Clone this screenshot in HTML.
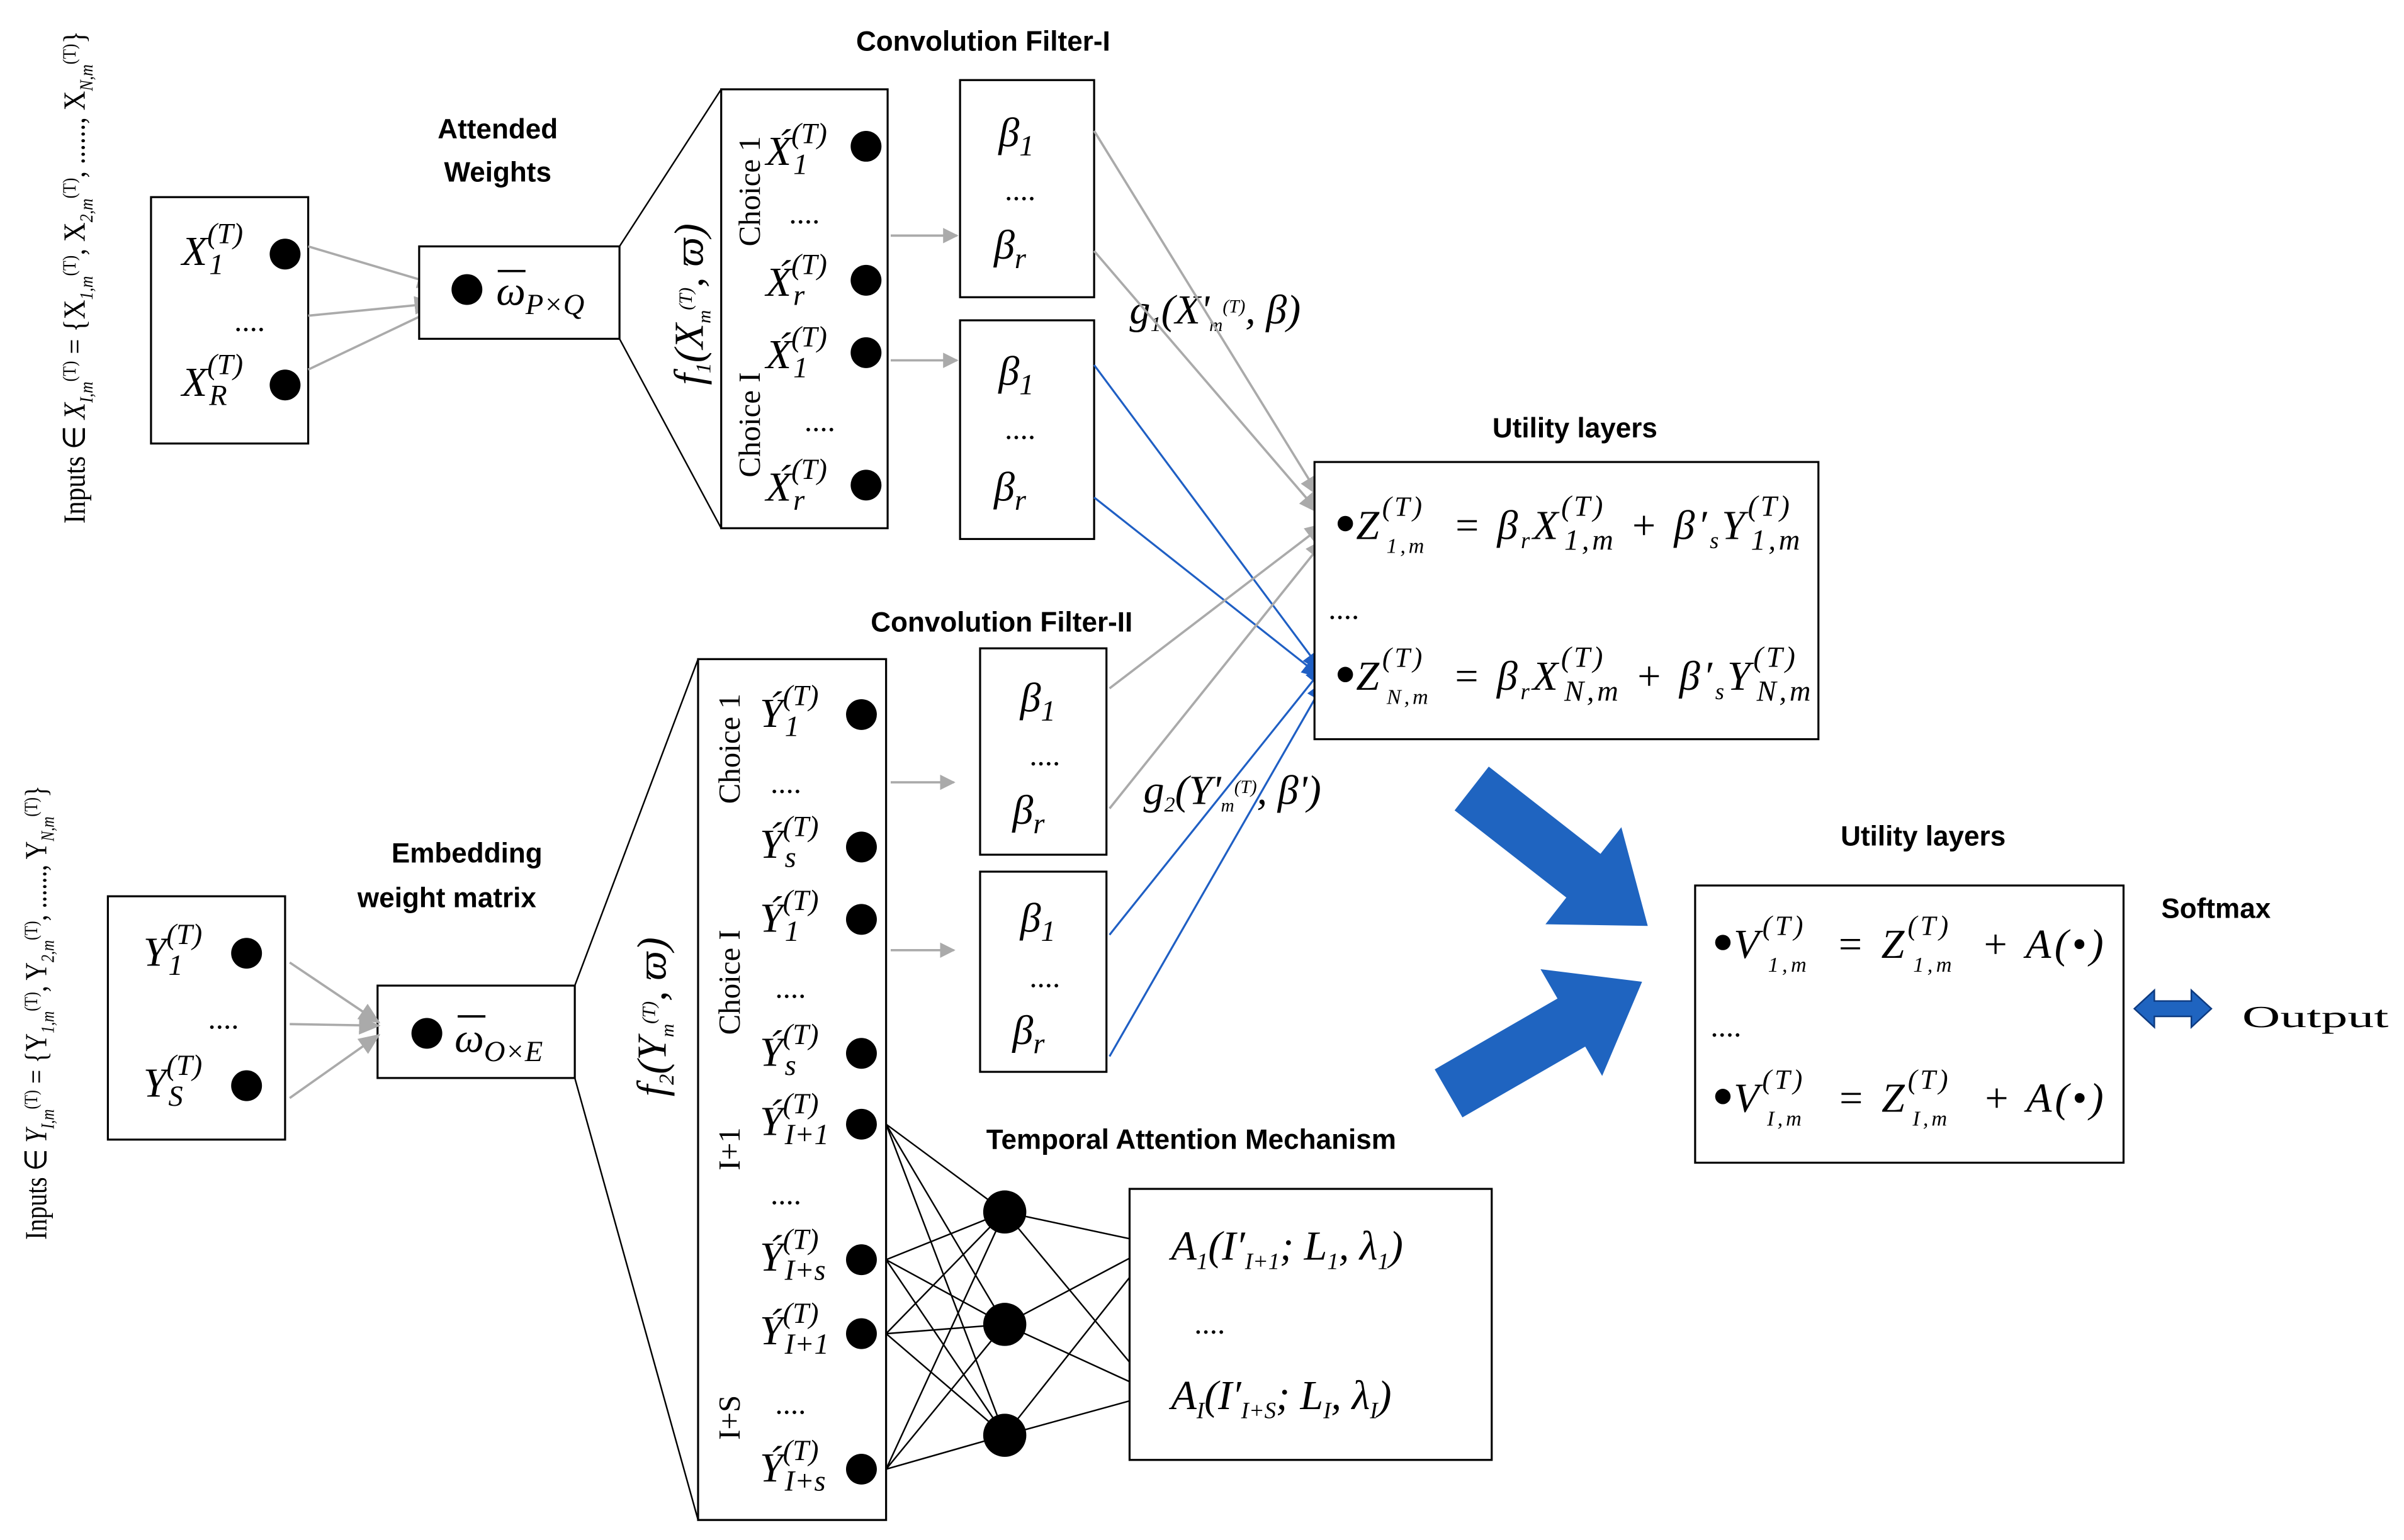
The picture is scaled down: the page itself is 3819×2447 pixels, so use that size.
<!DOCTYPE html>
<html><head><meta charset="utf-8"><style>
html,body{margin:0;padding:0;background:#fff;}
svg{display:block;}
.m{font-family:"Liberation Serif",serif;font-style:italic;font-size:27px;fill:#000;}
.b{font-family:"Liberation Sans",sans-serif;font-weight:bold;font-size:18px;fill:#000;}
.s{font-family:"Liberation Serif",serif;font-size:20px;fill:#000;}
.box{fill:#fff;stroke:#000;stroke-width:1.3;}
.g{stroke:#aaa;stroke-width:1.5;fill:none;}
.bl{stroke:#1f5fc4;stroke-width:1.3;fill:none;}
.k{stroke:#000;stroke-width:1;fill:none;}
</style></head><body>
<svg width="3819" height="2447" viewBox="0 0 1560 1000" preserveAspectRatio="none" xmlns="http://www.w3.org/2000/svg">
<defs>
<marker id="ag" markerWidth="10" markerHeight="10" refX="9" refY="5" orient="auto" markerUnits="userSpaceOnUse"><path d="M0,0 L10,5 L0,10 Z" fill="#aaa"/></marker>
<marker id="ab" markerWidth="14" markerHeight="12" refX="13" refY="6" orient="auto" markerUnits="userSpaceOnUse"><path d="M0,0 L14,6 L0,12 Z" fill="#1f5fc4"/></marker>
<marker id="ag2" markerWidth="14" markerHeight="12" refX="13" refY="6" orient="auto" markerUnits="userSpaceOnUse"><path d="M0,0 L14,6 L0,12 Z" fill="#aaa"/></marker>
</defs>

<!-- left vertical labels -->
<text class="s" font-size="17" textLength="320" lengthAdjust="spacingAndGlyphs" transform="translate(55,340) rotate(-90)">Inputs <tspan>∈</tspan><tspan font-style="italic"> X</tspan><tspan font-size="12" dy="5" font-style="italic">I,m</tspan><tspan font-size="12" dy="-11">(T)</tspan><tspan dy="6"> = {X</tspan><tspan font-size="12" dy="5" font-style="italic">1,m</tspan><tspan font-size="12" dy="-11">(T)</tspan><tspan dy="6">, X</tspan><tspan font-size="12" dy="5" font-style="italic">2,m</tspan><tspan font-size="12" dy="-11">(T)</tspan><tspan dy="6">, ......, X</tspan><tspan font-size="12" dy="5" font-style="italic">N,m</tspan><tspan font-size="12" dy="-11">(T)</tspan><tspan dy="6">}</tspan></text>
<text class="s" font-size="17" textLength="295" lengthAdjust="spacingAndGlyphs" transform="translate(30,805) rotate(-90)">Inputs <tspan>∈</tspan><tspan font-style="italic"> Y</tspan><tspan font-size="12" dy="5" font-style="italic">I,m</tspan><tspan font-size="12" dy="-11">(T)</tspan><tspan dy="6"> = {Y</tspan><tspan font-size="12" dy="5" font-style="italic">1,m</tspan><tspan font-size="12" dy="-11">(T)</tspan><tspan dy="6">, Y</tspan><tspan font-size="12" dy="5" font-style="italic">2,m</tspan><tspan font-size="12" dy="-11">(T)</tspan><tspan dy="6">, ......, Y</tspan><tspan font-size="12" dy="5" font-style="italic">N,m</tspan><tspan font-size="12" dy="-11">(T)</tspan><tspan dy="6">}</tspan></text>

<!-- X box -->
<rect class="box" x="98" y="128" width="102" height="160"/>
<text class="m" x="118" y="172">X<tspan font-size="19" dy="-14">(T)</tspan><tspan font-size="19" dx="-22" dy="20">1</tspan></text>
<circle cx="185" cy="165" r="10"/>
<text class="s" x="152" y="215">....</text>
<text class="m" x="118" y="257">X<tspan font-size="19" dy="-14">(T)</tspan><tspan font-size="19" dx="-22" dy="20">R</tspan></text>
<circle cx="185" cy="250" r="10"/>
<line class="g" x1="200" y1="160" x2="284" y2="185" marker-end="url(#ag2)"/>
<line class="g" x1="200" y1="205" x2="282" y2="197" marker-end="url(#ag2)"/>
<line class="g" x1="200" y1="240" x2="284" y2="200" marker-end="url(#ag2)"/>

<text class="b" x="323" y="90" text-anchor="middle">Attended</text>
<text class="b" x="323" y="118" text-anchor="middle">Weights</text>
<rect class="box" x="272" y="160" width="130" height="60"/>
<circle cx="303" cy="188" r="10"/>
<text class="m" x="322" y="198">ω<tspan font-size="19" dy="6">P×Q</tspan></text>
<line x1="323" y1="176" x2="341" y2="176" stroke="#000" stroke-width="1.5"/>
<line class="k" x1="402" y1="160" x2="468" y2="58"/>
<line class="k" x1="402" y1="220" x2="468" y2="343"/>
<text class="m" font-size="20" transform="translate(456,250) rotate(-90)">f<tspan font-size="14" dy="5">1</tspan><tspan dy="-5">(X</tspan><tspan font-size="12" dy="5">m</tspan><tspan font-size="12" dy="-12">(T)</tspan><tspan dy="7">, ϖ)</tspan></text>

<!-- choices box upper -->
<rect class="box" x="468" y="58" width="108" height="285"/>
<text class="s" font-size="18" transform="translate(493,160) rotate(-90)">Choice 1</text>
<text class="s" font-size="18" transform="translate(493,310) rotate(-90)">Choice I</text>
<text class="m" x="497" y="107">X́<tspan font-size="19" dy="-14">(T)</tspan><tspan font-size="19" dx="-22" dy="20">1</tspan></text><circle cx="562" cy="95" r="10"/>
<text class="s" x="512" y="145">....</text>
<text class="m" x="497" y="192">X́<tspan font-size="19" dy="-14">(T)</tspan><tspan font-size="19" dx="-22" dy="20">r</tspan></text><circle cx="562" cy="182" r="10"/>
<text class="m" x="497" y="239">X́<tspan font-size="19" dy="-14">(T)</tspan><tspan font-size="19" dx="-22" dy="20">1</tspan></text><circle cx="562" cy="229" r="10"/>
<text class="s" x="522" y="280">....</text>
<text class="m" x="497" y="325">X́<tspan font-size="19" dy="-14">(T)</tspan><tspan font-size="19" dx="-22" dy="20">r</tspan></text><circle cx="562" cy="315" r="10"/>
<line class="g" x1="578" y1="153" x2="621" y2="153" marker-end="url(#ag)"/>
<line class="g" x1="578" y1="234" x2="621" y2="234" marker-end="url(#ag)"/>

<text class="b" x="638" y="33" text-anchor="middle">Convolution Filter-I</text>
<rect class="box" x="623" y="52" width="87" height="141"/>
<text class="m" x="648" y="95">β<tspan font-size="19" dy="6">1</tspan></text>
<text class="s" x="652" y="130">....</text>
<text class="m" x="645" y="168">β<tspan font-size="19" dy="6">r</tspan></text>
<rect class="box" x="623" y="208" width="87" height="142"/>
<text class="m" x="648" y="250">β<tspan font-size="19" dy="6">1</tspan></text>
<text class="s" x="652" y="285">....</text>
<text class="m" x="645" y="325">β<tspan font-size="19" dy="6">r</tspan></text>
<text class="m" font-size="22" x="733" y="210">g<tspan font-size="14" dy="5">1</tspan><tspan dy="-5">(X'</tspan><tspan font-size="12" dy="5">m</tspan><tspan font-size="12" dy="-12">(T)</tspan><tspan dy="7">, β)</tspan></text>

<!-- connectors to utility -->
<line class="g" x1="710" y1="85" x2="856" y2="322" marker-end="url(#ag2)"/>
<line class="g" x1="710" y1="163" x2="856" y2="333" marker-end="url(#ag2)"/>
<line class="bl" x1="710" y1="237" x2="858" y2="436" marker-end="url(#ab)"/>
<line class="bl" x1="710" y1="323" x2="858" y2="440" marker-end="url(#ab)"/>
<line class="g" x1="720" y1="447" x2="860" y2="340" marker-end="url(#ag2)"/>
<line class="g" x1="720" y1="525" x2="860" y2="350" marker-end="url(#ag2)"/>
<line class="bl" x1="720" y1="607" x2="860" y2="432" marker-end="url(#ab)"/>
<line class="bl" x1="720" y1="686" x2="860" y2="442" marker-end="url(#ab)"/>

<!-- utility box 1 -->
<text class="b" x="1022" y="284" text-anchor="middle">Utility layers</text>
<rect class="box" x="853" y="300" width="327" height="180"/>
<circle cx="873" cy="340" r="5"/>
<text class="m" font-size="33" x="880" y="350" textLength="288" lengthAdjust="spacing">Z<tspan font-size="18" dy="-15">(T)</tspan><tspan font-size="14" dx="-25" dy="24">1,m</tspan><tspan dx="8" dy="-9"> = β</tspan><tspan font-size="15" dy="6">r</tspan><tspan dy="-6">X</tspan><tspan font-size="19" dy="-15">(T)</tspan><tspan font-size="19" dx="-27" dy="22">1,m</tspan><tspan dy="-7"> + β′</tspan><tspan font-size="15" dy="6">s</tspan><tspan dy="-6">Y</tspan><tspan font-size="19" dy="-15">(T)</tspan><tspan font-size="19" dx="-27" dy="22">1,m</tspan></text>
<text class="s" x="862" y="402">....</text>
<circle cx="873" cy="438" r="5"/>
<text class="m" font-size="33" x="880" y="448" textLength="295" lengthAdjust="spacing">Z<tspan font-size="18" dy="-15">(T)</tspan><tspan font-size="14" dx="-25" dy="24">N,m</tspan><tspan dx="5" dy="-9"> = β</tspan><tspan font-size="15" dy="6">r</tspan><tspan dy="-6">X</tspan><tspan font-size="19" dy="-15">(T)</tspan><tspan font-size="19" dx="-27" dy="22">N,m</tspan><tspan dy="-7"> + β′</tspan><tspan font-size="15" dy="6">s</tspan><tspan dy="-6">Y</tspan><tspan font-size="19" dy="-15">(T)</tspan><tspan font-size="19" dx="-27" dy="22">N,m</tspan></text>

<!-- lower part -->
<text class="b" x="650" y="410" text-anchor="middle">Convolution Filter-II</text>
<rect class="box" x="636" y="421" width="82" height="134"/>
<text class="m" x="662" y="462">β<tspan font-size="19" dy="6">1</tspan></text>
<text class="s" x="668" y="497">....</text>
<text class="m" x="657" y="535">β<tspan font-size="19" dy="6">r</tspan></text>
<rect class="box" x="636" y="566" width="82" height="130"/>
<text class="m" x="662" y="605">β<tspan font-size="19" dy="6">1</tspan></text>
<text class="s" x="668" y="641">....</text>
<text class="m" x="657" y="678">β<tspan font-size="19" dy="6">r</tspan></text>
<text class="m" font-size="22" x="742" y="522">g<tspan font-size="14" dy="5">2</tspan><tspan dy="-5">(Y'</tspan><tspan font-size="12" dy="5">m</tspan><tspan font-size="12" dy="-12">(T)</tspan><tspan dy="7">, β')</tspan></text>

<rect class="box" x="453" y="428" width="122" height="559"/>
<text class="s" font-size="18" transform="translate(480,522) rotate(-90)">Choice 1</text>
<text class="s" font-size="18" transform="translate(480,672) rotate(-90)">Choice I</text>
<text class="s" font-size="18" transform="translate(480,760) rotate(-90)">I+1</text>
<text class="s" font-size="18" transform="translate(480,935) rotate(-90)">I+S</text>
<g>
<text class="m" x="493" y="472">Ý<tspan font-size="19" dy="-14">(T)</tspan><tspan font-size="19" dx="-22" dy="20">1</tspan></text><circle cx="559" cy="464" r="10"/>
<text class="s" x="500" y="515">....</text>
<text class="m" x="493" y="557">Ý<tspan font-size="19" dy="-14">(T)</tspan><tspan font-size="19" dx="-22" dy="20">s</tspan></text><circle cx="559" cy="550" r="10"/>
<text class="m" x="493" y="605">Ý<tspan font-size="19" dy="-14">(T)</tspan><tspan font-size="19" dx="-22" dy="20">1</tspan></text><circle cx="559" cy="597" r="10"/>
<text class="s" x="503" y="648">....</text>
<text class="m" x="493" y="692">Ý<tspan font-size="19" dy="-14">(T)</tspan><tspan font-size="19" dx="-22" dy="20">s</tspan></text><circle cx="559" cy="684" r="10"/>
<text class="m" x="493" y="737">Ý<tspan font-size="19" dy="-14">(T)</tspan><tspan font-size="19" dx="-22" dy="20">I+1</tspan></text><circle cx="559" cy="730" r="10"/>
<text class="s" x="500" y="782">....</text>
<text class="m" x="493" y="825">Ý<tspan font-size="19" dy="-14">(T)</tspan><tspan font-size="19" dx="-22" dy="20">I+s</tspan></text><circle cx="559" cy="818" r="10"/>
<text class="m" x="493" y="873">Ý<tspan font-size="19" dy="-14">(T)</tspan><tspan font-size="19" dx="-22" dy="20">I+1</tspan></text><circle cx="559" cy="866" r="10"/>
<text class="s" x="503" y="918">....</text>
<text class="m" x="493" y="962">Ý<tspan font-size="19" dy="-14">(T)</tspan><tspan font-size="19" dx="-22" dy="20">I+s</tspan></text><circle cx="559" cy="954" r="10"/>
</g>
<line class="g" x1="578" y1="508" x2="619" y2="508" marker-end="url(#ag)"/>
<line class="g" x1="578" y1="617" x2="619" y2="617" marker-end="url(#ag)"/>
<line class="k" x1="373" y1="640" x2="453" y2="428"/>
<line class="k" x1="373" y1="700" x2="453" y2="987"/>
<text class="m" font-size="20" transform="translate(432,712) rotate(-90)">f<tspan font-size="14" dy="5">2</tspan><tspan dy="-5">(Y</tspan><tspan font-size="12" dy="5">m</tspan><tspan font-size="12" dy="-12">(T)</tspan><tspan dy="7">, ϖ)</tspan></text>

<text class="b" x="303" y="560" text-anchor="middle">Embedding</text>
<text class="b" x="290" y="589" text-anchor="middle">weight matrix</text>
<rect class="box" x="245" y="640" width="128" height="60"/>
<circle cx="277" cy="671" r="10"/>
<text class="m" x="295" y="683">ω<tspan font-size="19" dy="6">O×E</tspan></text>
<line x1="297" y1="660" x2="315" y2="660" stroke="#000" stroke-width="1.5"/>
<rect class="box" x="70" y="582" width="115" height="158"/>
<text class="m" x="93" y="627">Y<tspan font-size="19" dy="-14">(T)</tspan><tspan font-size="19" dx="-22" dy="20">1</tspan></text><circle cx="160" cy="619" r="10"/>
<text class="s" x="135" y="668">....</text>
<text class="m" x="93" y="712">Y<tspan font-size="19" dy="-14">(T)</tspan><tspan font-size="19" dx="-22" dy="20">S</tspan></text><circle cx="160" cy="705" r="10"/>
<line class="g" x1="188" y1="625" x2="246" y2="664" marker-end="url(#ag2)"/>
<line class="g" x1="188" y1="665" x2="246" y2="666" marker-end="url(#ag2)"/>
<line class="g" x1="188" y1="713" x2="246" y2="672" marker-end="url(#ag2)"/>

<!-- neural net -->
<g class="k">
<path d="M575,730L652,787M575,730L652,860M575,730L652,932M575,818L652,787M575,818L652,860M575,818L652,932M575,866L652,787M575,866L652,860M575,866L652,932M575,954L652,787M575,954L652,860M575,954L652,932M652,787L750,808M652,787L750,905M652,860L750,808M652,860L750,905M652,932L750,808M652,932L750,905"/>
</g>
<circle cx="652" cy="787" r="14"/><circle cx="652" cy="860" r="14"/><circle cx="652" cy="932" r="14"/>
<circle cx="750" cy="808" r="5"/><circle cx="750" cy="905" r="5"/>
<text class="b" x="773" y="746" text-anchor="middle">Temporal Attention Mechanism</text>
<rect class="box" x="733" y="772" width="235" height="176"/>
<text class="m" font-size="29" x="760" y="818">A<tspan font-size="15" dy="6">1</tspan><tspan dy="-6">(I′</tspan><tspan font-size="15" dy="6">I+1</tspan><tspan dy="-6">; L</tspan><tspan font-size="15" dy="6">1</tspan><tspan dy="-6">, λ</tspan><tspan font-size="15" dy="6">1</tspan><tspan dy="-6">)</tspan></text>
<text class="s" x="775" y="866">....</text>
<text class="m" font-size="29" x="760" y="915">A<tspan font-size="15" dy="6">I</tspan><tspan dy="-6">(I′</tspan><tspan font-size="15" dy="6">I+S</tspan><tspan dy="-6">; L</tspan><tspan font-size="15" dy="6">I</tspan><tspan dy="-6">, λ</tspan><tspan font-size="15" dy="6">I</tspan><tspan dy="-6">)</tspan></text>

<!-- big arrows -->
<g transform="translate(955,512) rotate(38)"><path d="M0,-18 L92,-18 L92,-40 L145,0 L92,40 L92,18 L0,18 Z" fill="#1f64c0"/></g>
<g transform="translate(940,710) rotate(-30)"><path d="M0,-18 L92,-18 L92,-40 L145,0 L92,40 L92,18 L0,18 Z" fill="#1f64c0"/></g>

<!-- utility box 2 -->
<text class="b" x="1248" y="549" text-anchor="middle">Utility layers</text>
<rect class="box" x="1100" y="575" width="278" height="180"/>
<circle cx="1118" cy="612" r="5"/>
<text class="m" font-size="33" x="1125" y="622" textLength="240" lengthAdjust="spacing">V<tspan font-size="18" dy="-15">(T)</tspan><tspan font-size="14" dx="-25" dy="24">1,m</tspan><tspan dx="8" dy="-9"> = Z</tspan><tspan font-size="18" dy="-15">(T)</tspan><tspan font-size="14" dx="-25" dy="24">1,m</tspan><tspan dx="8" dy="-9"> + A(•)</tspan></text>
<text class="s" x="1110" y="673">....</text>
<circle cx="1118" cy="712" r="5"/>
<text class="m" font-size="33" x="1125" y="722" textLength="240" lengthAdjust="spacing">V<tspan font-size="18" dy="-15">(T)</tspan><tspan font-size="14" dx="-25" dy="24">I,m</tspan><tspan dx="12" dy="-9"> = Z</tspan><tspan font-size="18" dy="-15">(T)</tspan><tspan font-size="14" dx="-25" dy="24">I,m</tspan><tspan dx="12" dy="-9"> + A(•)</tspan></text>
<text class="b" x="1438" y="596" text-anchor="middle" font-size="17">Softmax</text>
<path d="M1385,655 L1398,643 L1398,650 L1422,650 L1422,643 L1435,655 L1422,667 L1422,660 L1398,660 L1398,667 Z" fill="#1f64c0" stroke="#0d3a80" stroke-width="1"/>
<text class="s" font-size="34" x="1455" y="667" textLength="95" lengthAdjust="spacingAndGlyphs">Output</text>
</svg>
</body></html>
